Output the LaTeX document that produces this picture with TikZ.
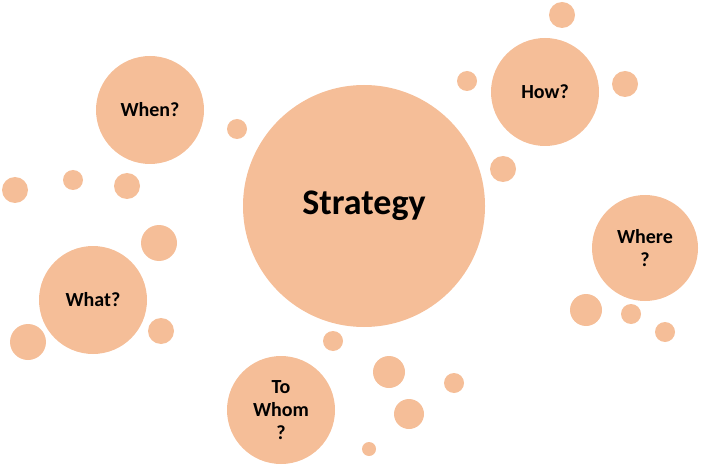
\documentclass[tikz,border=0pt]{standalone}
\usepackage{fontspec}
\setmainfont{Carlito}
\definecolor{peach}{HTML}{F5BE98}
\tikzset{bubble/.style={circle, fill=peach, inner sep=0pt, align=center, font=\bfseries\fontsize{15}{17}\selectfont}}

\begin{document}
\begin{tikzpicture}[x=0.75pt, y=-0.75pt]

\useasboundingbox (0,0) rectangle (702,470);

% big bubbles
\node[bubble, minimum size=242*0.75pt, font=\bfseries\fontsize{27}{30}\selectfont] (strategy) at (364,206) {Strategy};
\node[bubble, minimum size=108*0.75pt] (when) at (150,110) {When?};
\node[bubble, minimum size=108*0.75pt] (how) at (545,92) {How?};
\node[bubble, minimum size=106*0.75pt] (where) at (645,248) {Where\\?};
\node[bubble, minimum size=108*0.75pt] (what) at (93,300) {What?};
\node[bubble, minimum size=108*0.75pt] (towhom) at (281,410) {To\\Whom\\?};

% small bubbles
\foreach \px/\py/\rr [count=\i] in {562/15/13, 467/81/10, 625/84/13, 503/169/13, 237/129/10,
  15/190/13, 73/180/10, 127/186/13, 159/243/18, 161/331/13, 28/342/18, 333/341/10,
  389/372/16, 454/383/10, 409/414/15, 369/449/7, 586/310/16, 631/314/10, 665/332/10}
  \node[bubble, minimum size=2*\rr*0.75pt] (dot\i) at (\px,\py) {};

\end{tikzpicture}
\end{document}
